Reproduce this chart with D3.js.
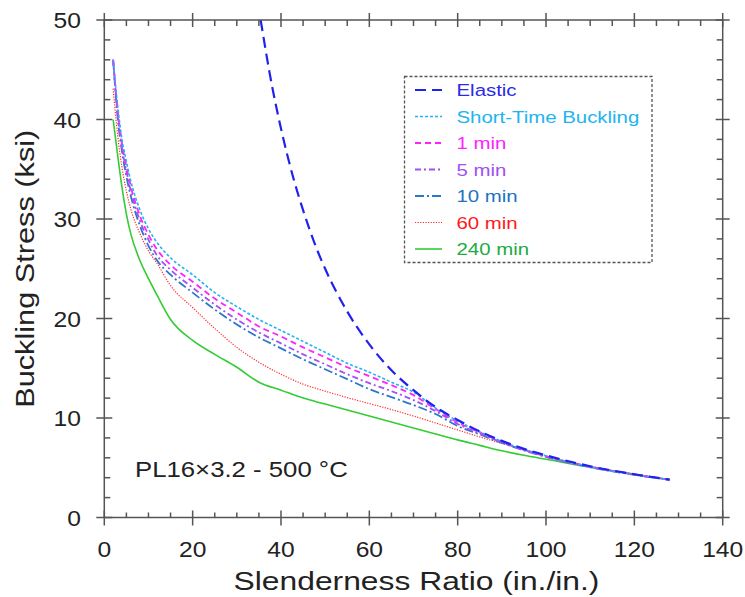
<!DOCTYPE html>
<html>
<head>
<meta charset="utf-8">
<script src="https://cdn.jsdelivr.net/npm/d3@7"></script>
<style>
  html, body { margin: 0; padding: 0; background: #fff; }
  svg { display: block; }
  text { font-family: Arial, "Liberation Sans", sans-serif; }
</style>
</head>
<body>
<svg id="chart" width="745" height="597"></svg>
<script>
// ---------- data ----------
const xTicks = [0, 20, 40, 60, 80, 100, 120, 140];
const yTicks = [0, 10, 20, 30, 40, 50];

const elasticX = [35.4, 38, 40, 43, 45, 48, 50, 55, 60, 65, 70, 75, 80, 85, 90, 95, 100, 110, 120, 128];
const elasticY = [50, 43.3, 39.1, 33.8, 30.9, 27.1, 25.0, 20.7, 17.4, 14.8, 12.8, 11.1, 9.8, 8.65, 7.7, 6.9, 6.25, 5.15, 4.35, 3.8];

const curveX = [2, 3, 4, 5, 6, 8, 10, 12, 15, 20, 25, 30, 35, 40, 45, 50, 55, 60, 65, 70, 75, 80, 85, 90, 95, 100, 110, 120, 128];
const shortTimeY = [46, 41.5, 38.0, 35.8, 33.8, 31.0, 29.0, 27.6, 26.1, 24.4, 22.6, 21.2, 19.9, 18.8, 17.7, 16.6, 15.5, 14.6, 13.6, 12.6, 11.0, 9.7, 8.6, 7.65, 6.85, 6.2, 5.1, 4.3, 3.8];
const min1Y      = [46, 41.0, 37.6, 35.3, 33.3, 30.4, 28.4, 26.9, 25.4, 23.7, 22.0, 20.6, 19.2, 18.2, 17.1, 16.1, 15.1, 14.2, 13.3, 12.3, 10.9, 9.55, 8.55, 7.6, 6.8, 6.15, 5.1, 4.3, 3.8];
const min5Y      = [46, 40.7, 37.2, 34.8, 32.8, 29.9, 27.9, 26.3, 24.9, 23.1, 21.4, 19.9, 18.6, 17.5, 16.4, 15.4, 14.4, 13.5, 12.7, 11.8, 10.7, 9.4, 8.45, 7.55, 6.8, 6.1, 5.1, 4.3, 3.8];
const min10Y     = [46, 40.3, 36.8, 34.3, 32.3, 29.4, 27.3, 25.8, 24.4, 22.6, 20.9, 19.4, 18.1, 17.0, 15.9, 14.9, 13.9, 12.9, 12.1, 11.3, 10.4, 9.2, 8.35, 7.5, 6.75, 6.1, 5.05, 4.3, 3.8];
const min60Y     = [43.1, 38.5, 35.2, 32.8, 31.0, 28.6, 26.8, 25.5, 23.3, 21.1, 19.0, 17.1, 15.6, 14.4, 13.4, 12.7, 12.05, 11.45, 10.85, 10.2, 9.5, 8.8, 8.1, 7.45, 6.85, 6.2, 5.15, 4.35, 3.8];
const min240Y    = [40, 36.5, 33.2, 30.5, 28.5, 25.9, 24.0, 22.3, 19.9, 17.8, 16.4, 15.1, 13.6, 12.8, 12.0, 11.4, 10.8, 10.2, 9.6, 9.0, 8.4, 7.8, 7.25, 6.7, 6.25, 5.85, 5.05, 4.35, 3.8];

const seriesNames = ["Elastic", "Short-Time Buckling", "1 min", "5 min", "10 min", "60 min", "240 min"];
const annotation = "PL16×3.2 - 500 °C";
const xTitle = "Slenderness Ratio (in./in.)";
const yTitle = "Buckling Stress (ksi)";

// ---------- drawing ----------
const svg = d3.select("#chart");
const x = d3.scaleLinear().domain([0, 140]).range([104.3, 722.7]);
const y = d3.scaleLinear().domain([0, 50]).range([517.5, 20]);
const axisColor = "#555";
const textColor = "#222";

const styles = [
  { line: "#2222ee", text: "#2a2ae6", width: 2.2, dash: "11,6" },
  { line: "#22b4ee", text: "#22b4ee", width: 1.6, dash: "3,2" },
  { line: "#ff22ff", text: "#ff22ff", width: 1.8, dash: "6,4" },
  { line: "#a050f5", text: "#a050f5", width: 1.8, dash: "6,3,2,3" },
  { line: "#2a78c8", text: "#1e72c4", width: 1.8, dash: "9,3,2,3" },
  { line: "#ff2a2a", text: "#ff1a1a", width: 1.2, dash: "1.2,1.4" },
  { line: "#33cc33", text: "#22aa44", width: 1.6, dash: null }
];

const seriesData = [
  elasticX.map((v, i) => [v, elasticY[i]]),
  curveX.map((v, i) => [v, shortTimeY[i]]),
  curveX.map((v, i) => [v, min1Y[i]]),
  curveX.map((v, i) => [v, min5Y[i]]),
  curveX.map((v, i) => [v, min10Y[i]]),
  curveX.map((v, i) => [v, min60Y[i]]),
  curveX.map((v, i) => [v, min240Y[i]])
];

svg.append("clipPath").attr("id", "clip").append("rect")
  .attr("x", x(0)).attr("y", y(50)).attr("width", x(140) - x(0)).attr("height", y(0) - y(50));

const line = d3.line().x(d => x(d[0])).y(d => y(d[1])).curve(d3.curveMonotoneX);
const plotG = svg.append("g").attr("clip-path", "url(#clip)");
[6, 5, 4, 3, 2, 1, 0].forEach(i => {
  plotG.append("path")
    .datum(seriesData[i])
    .attr("d", line)
    .attr("fill", "none")
    .attr("stroke", styles[i].line)
    .attr("stroke-width", styles[i].width)
    .attr("stroke-dasharray", styles[i].dash);
});

// axes
const gAx = svg.append("g").attr("stroke", axisColor).attr("stroke-width", 1.5);
gAx.append("rect").attr("x", x(0)).attr("y", y(50)).attr("width", x(140) - x(0)).attr("height", y(0) - y(50)).attr("fill", "none");

const xMinor = d3.range(5, 140, 5).filter(v => v % 20 !== 0);
const yMinor = d3.range(2, 50, 2).filter(v => v % 10 !== 0);

xTicks.forEach(v => {
  gAx.append("line").attr("x1", x(v)).attr("x2", x(v)).attr("y1", y(0) - 7).attr("y2", y(0) + 8);
  gAx.append("line").attr("x1", x(v)).attr("x2", x(v)).attr("y1", y(50) - 7).attr("y2", y(50) + 7);
});
xMinor.forEach(v => {
  gAx.append("line").attr("x1", x(v)).attr("x2", x(v)).attr("y1", y(0)).attr("y2", y(0) - 5);
  gAx.append("line").attr("x1", x(v)).attr("x2", x(v)).attr("y1", y(50)).attr("y2", y(50) + 6);
});
yTicks.forEach(v => {
  gAx.append("line").attr("x1", x(0) - 8).attr("x2", x(0) + 8).attr("y1", y(v)).attr("y2", y(v));
  gAx.append("line").attr("x1", x(140) - 7).attr("x2", x(140) + 7).attr("y1", y(v)).attr("y2", y(v));
});
yMinor.forEach(v => {
  gAx.append("line").attr("x1", x(0)).attr("x2", x(0) + 6).attr("y1", y(v)).attr("y2", y(v));
  gAx.append("line").attr("x1", x(140)).attr("x2", x(140) - 6).attr("y1", y(v)).attr("y2", y(v));
});

// text helper with horizontal stretch (the reference text is wider than plain Arial)
function stretchedText(parent, tx, ty, str, size, anchor, color, sx, rot) {
  const g = parent.append("g")
    .attr("transform", `translate(${tx},${ty})` + (rot ? ` rotate(${rot})` : "") + ` scale(${sx},1)`);
  g.append("text").attr("x", 0).attr("y", 0).attr("text-anchor", anchor)
    .attr("font-size", size).attr("fill", color).text(str);
  return g;
}

xTicks.forEach(v => stretchedText(svg, x(v), 557, String(v), 22, "middle", textColor, 1.12));
yTicks.forEach(v => stretchedText(svg, 81, y(v) + 8.3, String(v), 22, "end", textColor, 1.12));

stretchedText(svg, x(70) + 3, 590, xTitle, 26.5, "middle", textColor, 1.2);
stretchedText(svg, 34, y(25), yTitle, 25.6, "middle", textColor, 1.2, -90);

stretchedText(svg, 135, 476.5, annotation, 22, "start", textColor, 1.17);

// legend
const lg = svg.append("g");
lg.append("rect").attr("x", 404.5).attr("y", 76.5).attr("width", 247.5).attr("height", 186)
  .attr("fill", "#fff").attr("stroke", "#555").attr("stroke-width", 1.3).attr("stroke-dasharray", "3,2");
seriesNames.forEach((name, i) => {
  const cy = 90 + i * 26.5;
  lg.append("line").attr("x1", 415).attr("x2", 442).attr("y1", cy).attr("y2", cy)
    .attr("stroke", styles[i].line).attr("stroke-width", styles[i].width).attr("stroke-dasharray", styles[i].dash);
  stretchedText(lg, 456.5, cy + 6.2, name, 17, "start", styles[i].text, 1.2);
});
</script>
</body>
</html>
